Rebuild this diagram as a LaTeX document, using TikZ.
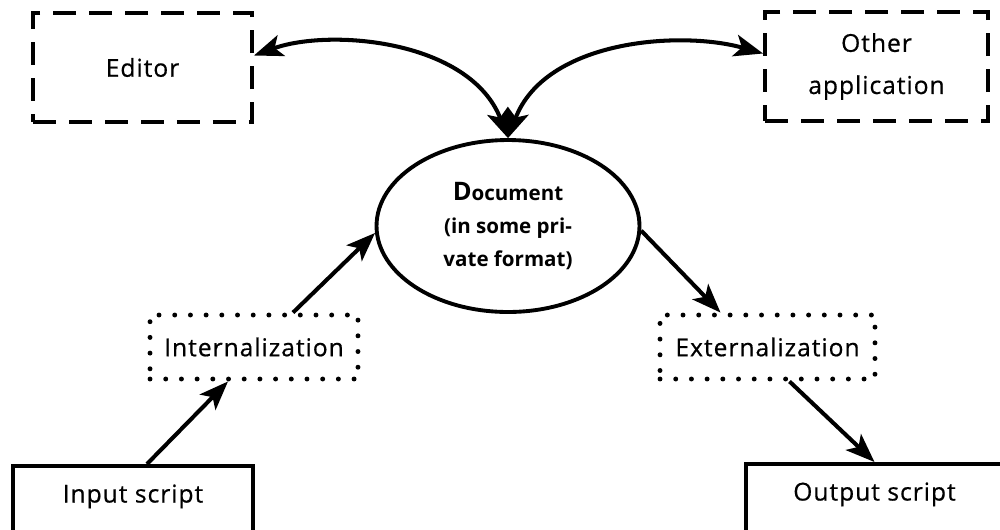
\documentclass[tikz,border=0pt]{standalone}
\usepackage{fontspec}
\setmainfont{Open Sans}
\newfontfamily\lblfont[LetterSpace=4, FakeBold=0.6]{Open Sans}
\usetikzlibrary{arrows.meta,calc,shapes.geometric}
\begin{document}
\begin{tikzpicture}[x=0.02cm,y=-0.02cm,
  lbl/.style={font=\lblfont\fontsize{14}{24}\selectfont, align=center},
  dashbox/.style={lbl, draw, line width=2.2pt, dash pattern=on 0.46cm off 0.26cm, minimum height=2.18cm},
  dotbox/.style={lbl, draw, line width=2.8pt, line cap=round, dash pattern=on 0pt off 0.314cm, minimum height=1.28cm},
  solidbox/.style={draw, line width=2.2pt, anchor=north, minimum height=1.5cm},
  docnode/.style={ellipse, draw, line width=2.2pt, minimum width=5.26cm, minimum height=3.44cm, inner sep=0pt, align=center, font=\bfseries\fontsize{11.7}{18.7}\selectfont},
  arr/.style={line width=2.3pt, -{Stealth[length=0.58cm,width=0.44cm,inset=0.14cm]}},
  darr/.style={line width=2.3pt, {Stealth[length=0.58cm,width=0.44cm,inset=0.14cm]}-{Stealth[length=0.58cm,width=0.44cm,inset=0.14cm]}}
]
\useasboundingbox (0,0) rectangle (1000,529);
\node[dashbox, minimum width=4.38cm] (editor) at (142.5,67.5) {Editor};
\node[dashbox, minimum width=4.46cm] (other) at (876.5,66.5) {Other\\application};
\node[docnode] (doc) at (508,226) {{\fontsize{14.5}{18.7}\selectfont D}ocument\\(in some pri-\\vate format)};
\node[dotbox, minimum width=4.16cm] (intern) at (254,347) {Internalization};
\node[dotbox, minimum width=4.3cm] (extern) at (767.5,347) {Externalization};
\node[solidbox, minimum width=4.8cm, label={[lbl, yshift=0.14cm]center:Input script}] (input) at (133,464) {};
\node[solidbox, minimum width=5.14cm, label={[lbl, yshift=0.14cm]center:Output script}] (output) at (874.5,462) {};
\draw[darr] ($(editor.east)+(0,-12)$) .. controls (330,28) and (470,40) .. (doc.north);
\draw[darr] (doc.north) .. controls (545,40) and (680,30) .. ($(other.west)+(0,-13)$);
\draw[arr] ($(input.north)+(14,0)$) -- ($(intern.south)+(-26,0)$);
\draw[arr] ($(intern.north)+(39,0)$) -- (doc.183);
\draw[arr] (doc.-2) -- ($(extern.north)+(-47,0)$);
\draw[arr] ($(extern.south)+(22,0)$) -- (output.north);
\end{tikzpicture}
\end{document}
